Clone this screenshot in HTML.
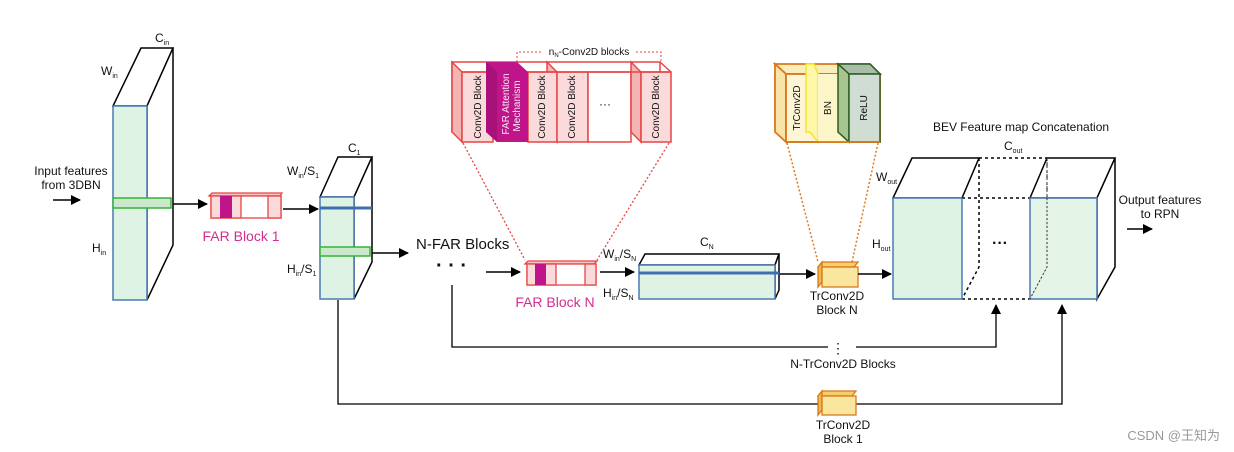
<!DOCTYPE html>
<html><head><meta charset="utf-8"><style>
html,body{margin:0;padding:0;background:#fff;}
svg{display:block;}
text{font-family:"Liberation Sans",sans-serif;fill:#111;}
</style></head><body>
<svg width="1234" height="452" viewBox="0 0 1234 452" xmlns="http://www.w3.org/2000/svg">
<defs>
<marker id="ah" markerWidth="10" markerHeight="10" refX="9" refY="5" orient="auto" markerUnits="userSpaceOnUse">
<path d="M0,0 L10,5 L0,10 z" fill="#000"/></marker>
</defs>

<!-- Input box -->
<g stroke="#000" stroke-width="1.5" fill="#fff">
<polygon points="113,106 141,48 173,48 147,106"/>
<polygon points="147,106 173,48 173,245 147,300"/>
</g>
<rect x="113" y="106" width="34" height="194" fill="#dff3e4" stroke="#4a7ab5" stroke-width="1.5"/>
<rect x="113" y="198" width="58" height="10" fill="#c8eacb" stroke="#3ab03a" stroke-width="1.5"/>
<text x="155" y="42" font-size="12">C<tspan font-size="7" dy="3">in</tspan></text>
<text x="101" y="75" font-size="12">W<tspan font-size="7" dy="3">in</tspan></text>
<text x="92" y="252" font-size="12">H<tspan font-size="7" dy="3">in</tspan></text>
<text x="71" y="175" font-size="12" text-anchor="middle">Input features</text>
<text x="71" y="189" font-size="12" text-anchor="middle">from 3DBN</text>
<line x1="53" y1="200" x2="80" y2="200" stroke="#000" stroke-width="1.5" marker-end="url(#ah)"/>
<line x1="173" y1="204" x2="207" y2="204" stroke="#000" stroke-width="1.5" marker-end="url(#ah)"/>

<!-- FAR block 1 -->
<g stroke="#e84545" stroke-width="1.3">
<polygon points="209,196 212,193 282,193 280,196" fill="#f6c6c6"/>
<rect x="211" y="196" width="70" height="22" fill="#fff"/>
<rect x="211" y="196" width="30" height="22" fill="#fadada"/>
<rect x="268" y="196" width="13" height="22" fill="#fadada"/>
</g>
<rect x="220" y="196" width="12" height="22" fill="#c0158a"/>
<text x="241" y="241" font-size="14" fill="#d22f8f" text-anchor="middle" style="fill:#d22f8f">FAR Block 1</text>
<line x1="283" y1="209" x2="318" y2="209" stroke="#000" stroke-width="1.5" marker-end="url(#ah)"/>

<!-- C1 box -->
<g stroke="#000" stroke-width="1.5" fill="#fff">
<polygon points="320,197 338,157 372,157 354,197"/>
<polygon points="354,197 372,157 372,262 354,299"/>
</g>
<rect x="320" y="197" width="34" height="102" fill="#dff3e4" stroke="#4a7ab5" stroke-width="1.5"/>
<line x1="320" y1="208" x2="372" y2="208" stroke="#3f6fae" stroke-width="3"/>
<rect x="320" y="247" width="50" height="9" fill="#c8eacb" stroke="#3ab03a" stroke-width="1.5"/>
<text x="348" y="152" font-size="12">C<tspan font-size="7" dy="3">1</tspan></text>
<text x="287" y="175" font-size="12">W<tspan font-size="7" dy="3">in</tspan><tspan dy="-3">/S</tspan><tspan font-size="7" dy="3">1</tspan></text>
<text x="287" y="273" font-size="12">H<tspan font-size="7" dy="3">in</tspan><tspan dy="-3">/S</tspan><tspan font-size="7" dy="3">1</tspan></text>
<line x1="372" y1="253" x2="408" y2="253" stroke="#000" stroke-width="1.5" marker-end="url(#ah)"/>
<text x="416" y="249" font-size="15">N-FAR Blocks</text>
<text x="436" y="272" font-size="20" font-weight="bold">· · ·</text>

<!-- loops -->
<polyline points="452,285 452,347 828,347" fill="none" stroke="#000" stroke-width="1.3"/>
<polyline points="856,347 996,347 996,305" fill="none" stroke="#000" stroke-width="1.3" marker-end="url(#ah)"/>
<text x="838" y="353" font-size="14" text-anchor="middle">⋮</text>
<text x="843" y="368" font-size="12" text-anchor="middle">N-TrConv2D Blocks</text>
<polyline points="338,300 338,404 1062,404 1062,305" fill="none" stroke="#000" stroke-width="1.3" marker-end="url(#ah)"/>
<g stroke="#d9781c" stroke-width="1.3">
<polygon points="818,396 822,391 856,391 852,396" fill="#f7cf6a"/>
<polygon points="818,396 822,391 822,410 818,415" fill="#f0b84a"/>
<rect x="822" y="396" width="34" height="19" fill="#fbe6a0"/>
</g>
<text x="843" y="429" font-size="12" text-anchor="middle">TrConv2D</text>
<text x="843" y="443" font-size="12" text-anchor="middle">Block 1</text>

<!-- FAR block N -->
<line x1="486" y1="272" x2="520" y2="272" stroke="#000" stroke-width="1.5" marker-end="url(#ah)"/>
<g stroke="#e84545" stroke-width="1.3">
<polygon points="525,264 528,261 597,261 594,264" fill="#f6c6c6"/>
<rect x="527" y="264" width="69" height="21" fill="#fff"/>
<rect x="527" y="264" width="29" height="21" fill="#fadada"/>
<rect x="585" y="264" width="11" height="21" fill="#fadada"/>
</g>
<rect x="535" y="264" width="11" height="21" fill="#c0158a"/>
<text x="555" y="307" font-size="14" text-anchor="middle" style="fill:#d22f8f">FAR Block N</text>
<line x1="600" y1="272" x2="634" y2="272" stroke="#000" stroke-width="1.5" marker-end="url(#ah)"/>
<text x="603" y="258" font-size="12">W<tspan font-size="7" dy="3">in</tspan><tspan dy="-3">/S</tspan><tspan font-size="7" dy="3">N</tspan></text>
<text x="603" y="297" font-size="12">H<tspan font-size="7" dy="3">in</tspan><tspan dy="-3">/S</tspan><tspan font-size="7" dy="3">N</tspan></text>

<!-- CN box -->
<g stroke="#000" stroke-width="1.5" fill="#fff">
<polygon points="639,265 645,254 779,254 775,265"/>
<polygon points="775,265 779,254 779,290 775,299"/>
</g>
<rect x="639" y="265" width="136" height="34" fill="#dff3e4" stroke="#4a7ab5" stroke-width="1.5"/>
<line x1="639" y1="273" x2="779" y2="273" stroke="#3f6fae" stroke-width="3"/>
<text x="700" y="246" font-size="12">C<tspan font-size="7" dy="3">N</tspan></text>
<line x1="780" y1="274" x2="815" y2="274" stroke="#000" stroke-width="1.5" marker-end="url(#ah)"/>

<!-- TrConv N -->
<g stroke="#d9781c" stroke-width="1.3">
<polygon points="818,267 822,262 858,262 854,267" fill="#f7cf6a"/>
<polygon points="818,267 822,262 822,282 818,287" fill="#f0b84a"/>
<rect x="822" y="267" width="36" height="20" fill="#fbe6a0"/>
</g>
<text x="837" y="300" font-size="12" text-anchor="middle">TrConv2D</text>
<text x="837" y="314" font-size="12" text-anchor="middle">Block N</text>
<line x1="858" y1="274" x2="891" y2="274" stroke="#000" stroke-width="1.5" marker-end="url(#ah)"/>

<!-- dotted connectors -->
<line x1="463" y1="143" x2="525" y2="260" stroke="#e84545" stroke-width="1.3" stroke-dasharray="2,2"/>
<line x1="669" y1="143" x2="597" y2="260" stroke="#e84545" stroke-width="1.3" stroke-dasharray="2,2"/>
<line x1="787" y1="143" x2="818" y2="262" stroke="#e07a20" stroke-width="1.5" stroke-dasharray="2,2"/>
<line x1="878" y1="143" x2="852" y2="262" stroke="#e07a20" stroke-width="1.5" stroke-dasharray="2,2"/>

<!-- detail of FAR -->
<polyline points="517,62 517,52 543,52" fill="none" stroke="#e84545" stroke-width="1" stroke-dasharray="2,2"/>
<polyline points="636,52 661,52 661,62" fill="none" stroke="#e84545" stroke-width="1" stroke-dasharray="2,2"/>
<text x="589" y="55" font-size="10" text-anchor="middle">n<tspan font-size="6" dy="2">N</tspan><tspan dy="-2">-Conv2D blocks</tspan></text>
<g stroke="#e84545" stroke-width="1.5">
<rect x="452" y="62" width="208" height="70" fill="#fff"/>
<polygon points="452,62 462,72 462,142 452,132" fill="#f3b4b4"/>
<rect x="462" y="72" width="31" height="70" fill="#fadada"/>
<polygon points="547,62 557,72 557,142 547,132" fill="#f3b4b4"/>
<rect x="528" y="72" width="29" height="70" fill="#fadada"/>
<rect x="557" y="72" width="31" height="70" fill="#fadada"/>
<rect x="588" y="72" width="43" height="70" fill="#fff"/>
<polygon points="631,62 641,72 641,142 631,132" fill="#f3b4b4"/>
<rect x="641" y="72" width="30" height="70" fill="#fadada"/>
<line x1="660" y1="62" x2="671" y2="72"/>
<line x1="462" y1="72" x2="671" y2="72"/>
</g>
<polygon points="486,62 517,62 528,72 528,142 497,142 486,132" fill="#c0158a"/>
<polygon points="486,62 497,72 497,142 486,132" fill="#a8107a"/>
<g font-size="10" text-anchor="middle">
<text transform="translate(481,107) rotate(-90)">Conv2D Block</text>
<text transform="translate(509,104) rotate(-90)" style="fill:#fff;fill-opacity:0.9">FAR Attention</text>
<text transform="translate(520,106) rotate(-90)" style="fill:#fff;fill-opacity:0.9">Mechanism</text>
<text transform="translate(545,107) rotate(-90)">Conv2D Block</text>
<text transform="translate(575,107) rotate(-90)">Conv2D Block</text>
<text transform="translate(659,107) rotate(-90)">Conv2D Block</text>
</g>
<text x="605" y="108" font-size="12" text-anchor="middle">···</text>

<!-- TrConv detail -->
<g stroke="#d9781c" stroke-width="1.8">
<polygon points="775,64 870,64 880,74 786,74" fill="#f8eebb"/>
<polygon points="775,64 786,74 786,142 775,132" fill="#f8e4a8"/>
<rect x="786" y="74" width="94" height="68" fill="#fdf6d6"/>
</g>
<polygon points="806,64 814,64 818,74 818,142 810,132 806,132" fill="#fff7a8" stroke="#f5e52a" stroke-width="1.5"/>
<rect x="818" y="74" width="31" height="68" fill="#fdf6c8"/>
<polygon points="838,64 870,64 880,74 849,74" fill="#a9bda9" stroke="#2b5d22" stroke-width="1.5"/>
<polygon points="838,64 849,74 849,142 838,132" fill="#a8c48f" stroke="#2b5d22" stroke-width="1.5"/>
<rect x="849" y="74" width="31" height="68" fill="#d0ddd3" stroke="#2b5d22" stroke-width="1.5"/>
<line x1="786" y1="142" x2="880" y2="142" stroke="#d9781c" stroke-width="1.8"/>
<g font-size="10" text-anchor="middle">
<text transform="translate(800,108) rotate(-90)">TrConv2D</text>
<text transform="translate(831,108) rotate(-90)">BN</text>
<text transform="translate(867,108) rotate(-90)">ReLU</text>
</g>

<!-- BEV -->
<text x="1021" y="131" font-size="12" text-anchor="middle">BEV Feature map Concatenation</text>
<text x="1004" y="150" font-size="12">C<tspan font-size="7" dy="3">out</tspan></text>
<text x="876" y="181" font-size="12">W<tspan font-size="7" dy="3">out</tspan></text>
<text x="872" y="248" font-size="12">H<tspan font-size="7" dy="3">out</tspan></text>
<g stroke="#000" stroke-width="1.5" fill="#fff">
<polygon points="893,198 912,158 979,158 962,198"/>
<polygon points="1030,198 1047,158 1115,158 1097,198"/>
<polygon points="1097,198 1115,158 1115,267 1097,299"/>
</g>
<g stroke="#000" stroke-width="1.5" fill="none" stroke-dasharray="3,3">
<line x1="979" y1="158" x2="1047" y2="158"/>
<line x1="962" y1="198" x2="1030" y2="198"/>
<line x1="962" y1="299" x2="1030" y2="299"/>
<polyline points="979,158 979,267 962,299"/>
<polyline points="1047,158 1047,267 1030,299" stroke-width="1"/>
</g>
<rect x="893" y="198" width="69" height="101" fill="#dff3e4" stroke="#4a7ab5" stroke-width="1.5"/>
<rect x="1030" y="198" width="67" height="101" fill="#dff3e4" fill-opacity="0.85" stroke="#4a7ab5" stroke-width="1.5"/>
<polyline points="1047,158 1047,267 1030,299" stroke="#333" stroke-width="1" fill="none" stroke-dasharray="2,2"/>
<text x="1000" y="248" font-size="16" text-anchor="middle" font-weight="bold">···</text>
<text x="1160" y="204" font-size="12" text-anchor="middle">Output features</text>
<text x="1160" y="218" font-size="12" text-anchor="middle">to RPN</text>
<line x1="1127" y1="229" x2="1152" y2="229" stroke="#000" stroke-width="1.5" marker-end="url(#ah)"/>

<text x="1220" y="440" font-size="13" text-anchor="end" style="fill:#999">CSDN @王知为</text>
</svg>
</body></html>
